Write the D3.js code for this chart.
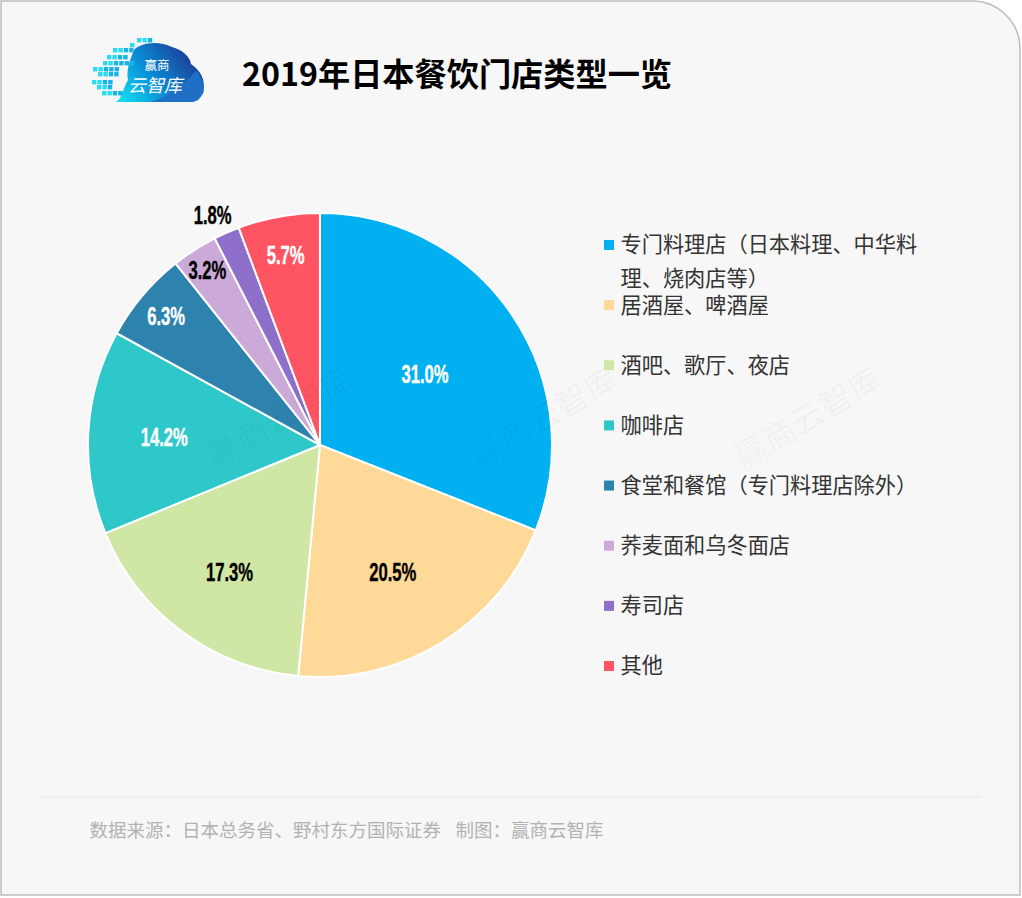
<!DOCTYPE html>
<html>
<head>
<meta charset="utf-8">
<script src="https://cdn.jsdelivr.net/npm/d3@7"></script>
<style>
    html, body { margin: 0; padding: 0; background: #fff; }
    svg { display: block; }
    text { font-family: "Noto Sans CJK SC", "Noto Sans", sans-serif; }
</style>
</head>
<body>
<div id="chart"></div>
<script>
const categories = ["专门料理店（日本料理、中华料理、烧肉店等）", "居酒屋、啤酒屋", "酒吧、歌厅、夜店", "咖啡店", "食堂和餐馆（专门料理店除外）", "荞麦面和乌冬面店", "寿司店", "其他"];
const values = [31.0, 20.5, 17.3, 14.2, 6.3, 3.2, 1.8, 5.7];
const colors = ["#00b0f0", "#ffd997", "#d0e6a5", "#2ec8ca", "#2e82ae", "#cba9d8", "#8e6fc9", "#ff5461"];
const labelColors = ["#fff", "#000", "#000", "#fff", "#fff", "#000", "#000", "#fff"];
// label placement set by hand per slice: distance from the centre, then small nudges
const labelRadius = [127, 147, 157, 156, 200, 208, 254, 193];
const labelDx = [0, -4, 3, 0, -1, 0, -5, 0];
const labelDy = [0, 1, 0, 0, 0, 0, 2, 0];

const width = 1022;
const height = 898;
const cx = 320;
const cy = 445;
const radius = 232;

const svg = d3.select("#chart").append("svg")
    .attr("width", width)
    .attr("height", height)
    .attr("viewBox", [0, 0, width, height]);

// card background, only the top right corner is really round
svg.append("path")
    .attr("d", "M1,1 H972 A48,48 0 0 1 1020,49 V895 H1 Z")
    .attr("fill", "#f7f7f7")
    .attr("stroke", "#bdbdbd")
    .attr("stroke-width", 1.5);

drawLogo();

svg.append("text")
    .attr("x", 242)
    .attr("y", 86)
    .attr("font-size", 32.2)
    .attr("font-weight", 700)
    .attr("fill", "#000")
    .text("2019年日本餐饮门店类型一览");

// pie
const pie = d3.pie().value(d => d).sort(null);
const arc = d3.arc().innerRadius(0).outerRadius(radius);
const arcs = pie(values);

const g = svg.append("g").attr("transform", `translate(${cx},${cy})`);

g.selectAll("path")
    .data(arcs)
    .join("path")
    .attr("d", arc)
    .attr("fill", (d, i) => colors[i])
    .attr("stroke", "#fff")
    .attr("stroke-width", 2);

g.selectAll("text")
    .data(arcs)
    .join("text")
    .attr("transform", (d, i) => {
        const mid = (d.startAngle + d.endAngle) / 2;
        const r = labelRadius[i];
        const x = r * Math.sin(mid) + labelDx[i];
        const y = -r * Math.cos(mid) + labelDy[i];
        return `translate(${x},${y}) scale(0.64,1)`;
    })
    .attr("text-anchor", "middle")
    .attr("dy", "0.36em")
    .attr("font-size", 26)
    .attr("font-weight", 700)
    .attr("stroke", (d, i) => labelColors[i])
    .attr("stroke-width", 0.4)
    .style("font-family", '"Liberation Sans Narrow", "Liberation Sans", sans-serif')
    .attr("fill", (d, i) => labelColors[i])
    .text(d => d.value.toFixed(1) + "%");

// watermarks
[[280, 418], [544, 418], [808, 418]].forEach(p => {
    svg.append("text")
        .attr("transform", `translate(${p[0]},${p[1]}) rotate(-31)`)
        .attr("text-anchor", "middle")
        .attr("dy", "0.35em")
        .attr("font-size", 33)
        .attr("fill", "#000")
        .attr("fill-opacity", 0.035)
        .text("赢商云智库");
});

// legend
const legendY = d3.scalePoint().domain(d3.range(categories.length)).range([245, 666]);
const legend = svg.append("g").selectAll("g")
    .data(categories)
    .join("g")
    .attr("transform", (d, i) => `translate(604,${legendY(i)})`);

legend.append("rect")
    .attr("x", 0)
    .attr("y", -5)
    .attr("width", 10)
    .attr("height", 10)
    .attr("fill", (d, i) => colors[i]);

legend.each(function (d) {
    // only the first entry is long enough to wrap
    const lines = d.length > 14 ? [d.slice(0, 14), d.slice(14)] : [d];
    d3.select(this).selectAll("text")
        .data(lines)
        .join("text")
        .attr("x", 16.5)
        .attr("y", (l, i) => i * 34)
        .attr("dy", "0.35em")
        .attr("font-size", 21.2)
        .attr("fill", "#333")
        .text(l => l);
});

// footer
svg.append("line")
    .attr("x1", 40).attr("x2", 980)
    .attr("y1", 797).attr("y2", 797)
    .attr("stroke", "#e6e6e6");

svg.append("text")
    .attr("x", 89.5).attr("y", 837)
    .attr("font-size", 18.5)
    .attr("fill", "#b2b2b2")
    .text("数据来源：日本总务省、野村东方国际证券");

svg.append("text")
    .attr("x", 455.5).attr("y", 837)
    .attr("font-size", 18.5)
    .attr("fill", "#b2b2b2")
    .text("制图：赢商云智库");

function drawLogo() {
    const logo = svg.append("g");
    const defs = svg.append("defs");
    const grad = defs.append("linearGradient")
        .attr("id", "cloud")
        .attr("gradientUnits", "userSpaceOnUse")
        .attr("x1", 120).attr("y1", 102)
        .attr("x2", 190).attr("y2", 50);
    grad.append("stop").attr("offset", "0%").attr("stop-color", "#14e0f0");
    grad.append("stop").attr("offset", "45%").attr("stop-color", "#0a8fd8");
    grad.append("stop").attr("offset", "100%").attr("stop-color", "#1d3a94");

    logo.append("path")
        .attr("d", "M115,102 C122,100 122,90 128,80 C126,70 130,60 134,50 C140,43 158,40 172,47 C182,50 190,56 191,64 C200,70 206,80 203,90 C201,98 197,102 190,102 Z")
        .attr("fill", "url(#cloud)");

    // lighter swoosh across the lower right of the cloud
    logo.append("path")
        .attr("d", "M150,102 C170,96 186,84 196,70 C204,80 206,90 202,95 C199,100 196,102 190,102 Z")
        .attr("fill", "#1f6fc4");

    // little pixel squares drifting off the left side: [y, first x, count]
    const rows = [[38, 137, 3], [43, 130, 1], [48, 113, 4], [55, 107, 4], [61, 103, 6], [67, 93, 5], [72, 98, 4], [80, 92, 4], [85, 97, 3], [91, 102, 4]];
    rows.forEach(r => {
        d3.range(r[2]).forEach(i => {
            logo.append("rect")
                .attr("x", r[1] + i * 5.4)
                .attr("y", r[0])
                .attr("width", 4.4)
                .attr("height", 4.4)
                .attr("fill", i < 2 ? "#2bdcf0" : "#18b4e6");
        });
    });

    logo.append("text")
        .attr("x", 157).attr("y", 70)
        .attr("text-anchor", "middle")
        .attr("font-size", 12.5)
        .attr("fill", "#fff")
        .text("赢商");
    logo.append("text")
        .attr("x", 155).attr("y", 92)
        .attr("text-anchor", "middle")
        .attr("font-size", 18)
        .attr("font-style", "italic")
        .attr("fill", "#fff")
        .text("云智库");
}
</script>
</body>
</html>
